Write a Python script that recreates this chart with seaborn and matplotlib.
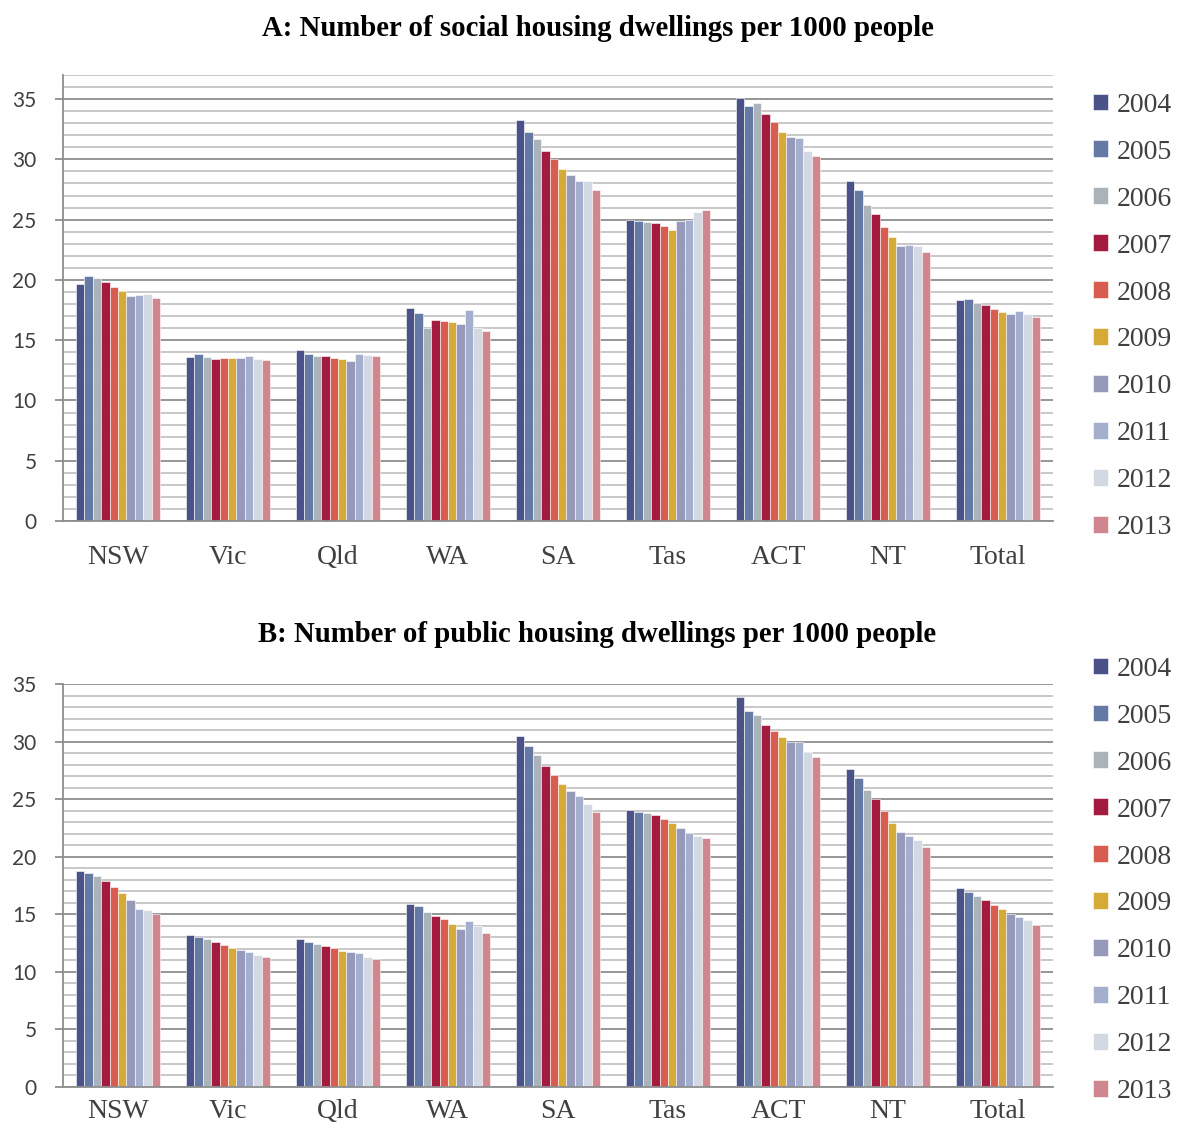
import matplotlib
matplotlib.use("Agg")
import matplotlib.pyplot as plt
from matplotlib.ticker import MultipleLocator
import seaborn as sns
import pandas as pd

states = ["NSW", "Vic", "Qld", "WA", "SA", "Tas", "ACT", "NT", "Total"]
years = ["2004", "2005", "2006", "2007", "2008", "2009", "2010", "2011", "2012", "2013"]
year_colors = ["#4a5289", "#6479a3", "#abb3ba", "#a31b3e", "#d85d50",
               "#d6aa36", "#9699ba", "#a4afce", "#d2d9e2", "#d0868f"]

# Panel A: social housing dwellings per 1000 people
social_nsw = [19.67, 20.30, 20.14, 19.86, 19.44, 19.08, 18.67, 18.75, 18.80, 18.47]
social_vic = [13.64, 13.89, 13.64, 13.42, 13.56, 13.56, 13.56, 13.67, 13.42, 13.39]
social_qld = [14.17, 13.86, 13.67, 13.67, 13.53, 13.42, 13.31, 13.83, 13.75, 13.69]
social_wa = [17.64, 17.28, 16.00, 16.64, 16.56, 16.50, 16.33, 17.47, 15.97, 15.75]
social_sa = [33.28, 32.29, 31.65, 30.71, 30.04, 29.18, 28.74, 28.21, 28.21, 27.47]
social_tas = [24.97, 24.92, 24.78, 24.72, 24.47, 24.14, 24.89, 25.00, 25.61, 25.80]
social_act = [35.11, 34.42, 34.67, 33.78, 33.12, 32.29, 31.87, 31.81, 30.71, 30.26]
social_nt = [28.19, 27.44, 26.19, 25.44, 24.39, 23.53, 22.78, 22.92, 22.84, 22.29]
social_total = [18.37, 18.43, 18.09, 17.90, 17.62, 17.37, 17.21, 17.40, 17.18, 16.96]

# Panel B: public housing dwellings per 1000 people
public_nsw = [18.79, 18.59, 18.33, 17.86, 17.34, 16.88, 16.21, 15.49, 15.40, 15.06]
public_vic = [13.18, 13.00, 12.86, 12.60, 12.31, 12.08, 11.93, 11.73, 11.50, 11.26]
public_qld = [12.86, 12.57, 12.39, 12.22, 12.08, 11.82, 11.76, 11.61, 11.32, 11.12]
public_wa = [15.92, 15.69, 15.20, 14.85, 14.56, 14.16, 13.75, 14.42, 13.98, 13.38]
public_sa = [30.48, 29.59, 28.84, 27.85, 27.13, 26.32, 25.74, 25.30, 24.61, 23.89]
public_tas = [24.09, 23.89, 23.80, 23.60, 23.25, 22.93, 22.47, 22.03, 21.80, 21.63]
public_act = [33.84, 32.68, 32.34, 31.41, 30.95, 30.37, 29.99, 29.99, 29.12, 28.63]
public_nt = [27.65, 26.87, 25.77, 24.99, 23.94, 22.93, 22.12, 21.77, 21.45, 20.85]
public_total = [17.26, 16.94, 16.62, 16.27, 15.84, 15.43, 15.06, 14.74, 14.48, 14.10]

title_a = "A: Number of social housing dwellings per 1000 people"
title_b = "B: Number of public housing dwellings per 1000 people"

social_rows = [social_nsw, social_vic, social_qld, social_wa, social_sa,
               social_tas, social_act, social_nt, social_total]
public_rows = [public_nsw, public_vic, public_qld, public_wa, public_sa,
               public_tas, public_act, public_nt, public_total]


def to_frame(rows):
    recs = []
    for s, vals in zip(states, rows):
        for y, v in zip(years, vals):
            recs.append({"state": s, "year": y, "value": v})
    return pd.DataFrame(recs)


sns.set_theme(style="white")
plt.rcParams["font.family"] = ["Liberation Serif", "DejaVu Serif"]

W, H = 1182, 1131
fig = plt.figure(figsize=(W / 100, H / 100), dpi=100)

serif = ["Liberation Serif", "DejaVu Serif"]
sans = ["Lato", "DejaVu Sans"]


def panel(rect, rows, ymax, title, title_y, legend_cy, xpad):
    ax = fig.add_axes(rect)
    df = to_frame(rows)
    sns.barplot(data=df, x="state", y="value", hue="year", order=states,
                hue_order=years, palette=year_colors, width=0.77,
                edgecolor="white", linewidth=0.4, saturation=1, ax=ax,
                errorbar=None)
    ax.set_xlim(-0.5, len(states) - 0.5)
    ax.set_ylim(0, ymax)
    ax.yaxis.set_major_locator(MultipleLocator(5))
    ax.yaxis.set_minor_locator(MultipleLocator(1))
    ax.grid(which="major", axis="y", color="#8e8e8e", linewidth=1.3)
    ax.grid(which="minor", axis="y", color="#c4c4c4", linewidth=1.3)
    ax.grid(False, axis="x")
    ax.set_axisbelow(True)
    for side in ["top", "right"]:
        ax.spines[side].set_visible(False)
    for side in ["left", "bottom"]:
        ax.spines[side].set_color("#8e8e8e")
        ax.spines[side].set_linewidth(1.3)
    ax.tick_params(axis="y", which="major", left=True, length=6, width=1.3,
                   color="#8e8e8e", pad=13, labelsize=15, labelcolor="#404040")
    ax.tick_params(axis="y", which="minor", length=0)
    ax.tick_params(axis="x", length=0, pad=xpad, labelsize=20, labelcolor="#404040")
    for lab in ax.get_yticklabels():
        lab.set_family(sans)
    for lab in ax.get_xticklabels():
        lab.set_family(serif)
    ax.set_xlabel("")
    ax.set_ylabel("")
    handles, labels = ax.get_legend_handles_labels()
    if ax.get_legend() is not None:
        ax.get_legend().remove()
    fig.legend(handles, labels, loc="center left",
               bbox_to_anchor=(1093 / W, 1 - legend_cy / H), frameon=False,
               prop={"family": serif, "size": 20}, labelcolor="#404040",
               handlelength=0.55, handleheight=0.55, handletextpad=0.3,
               labelspacing=0.79, borderpad=0, borderaxespad=0)
    fig.text(597.5 / W, 1 - title_y / H, title, ha="center", va="center",
             fontsize=20.7, fontweight="bold", family=serif, color="black")
    return ax


panel([63 / W, 1 - 521 / H, 990 / W, 446 / H], social_rows, 37, title_a, 28, 316.5, 17.5)
panel([63 / W, 1 - 1087 / H, 990 / W, 403 / H], public_rows, 35, title_b, 635, 880.5, 9)

fig.savefig("out.png", dpi=100)
